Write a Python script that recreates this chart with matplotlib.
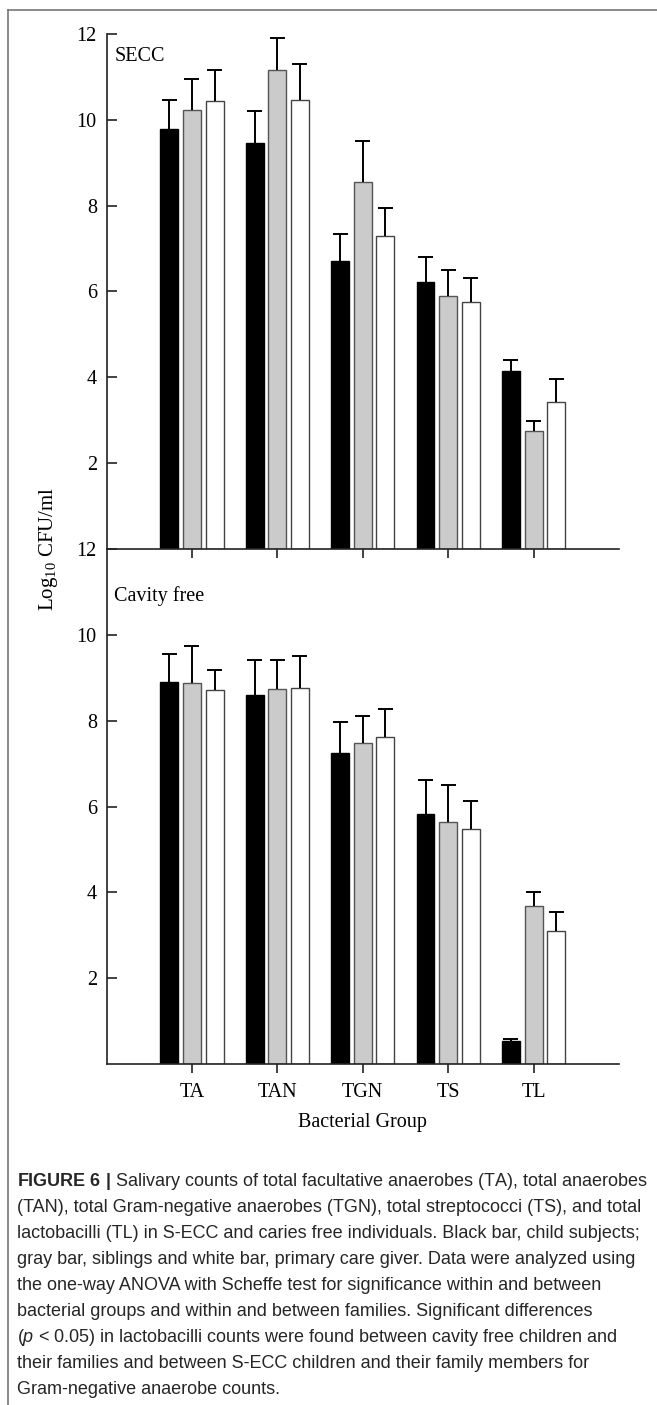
import numpy as np
import matplotlib
matplotlib.use("Agg")
import matplotlib.pyplot as plt
from matplotlib.lines import Line2D

# bacterial groups on the x axis
groups = ["TA", "TAN", "TGN", "TS", "TL"]

# SECC panel: means and (upper) error bars, log10 CFU/ml
secc_child = [9.78, 9.46, 6.72, 6.22, 4.15]
secc_sibling = [10.23, 11.15, 8.55, 5.89, 2.74]
secc_carer = [10.45, 10.46, 7.29, 5.75, 3.42]
secc_child_err = [0.68, 0.74, 0.62, 0.58, 0.25]
secc_sibling_err = [0.73, 0.75, 0.95, 0.61, 0.25]
secc_carer_err = [0.72, 0.84, 0.66, 0.56, 0.53]

# cavity free panel
free_child = [8.91, 8.60, 7.24, 5.83, 0.54]
free_sibling = [8.88, 8.74, 7.48, 5.63, 3.67]
free_carer = [8.72, 8.75, 7.63, 5.48, 3.09]
free_child_err = [0.64, 0.81, 0.72, 0.78, 0.05]
free_sibling_err = [0.85, 0.67, 0.64, 0.88, 0.33]
free_carer_err = [0.45, 0.76, 0.65, 0.65, 0.45]

caption_lines = [
    r"$\mathbf{FIGURE\ 6\ |}$ Salivary counts of total facultative anaerobes (TA), total anaerobes",
    "(TAN), total Gram-negative anaerobes (TGN), total streptococci (TS), and total",
    "lactobacilli (TL) in S-ECC and caries free individuals. Black bar, child subjects;",
    "gray bar, siblings and white bar, primary care giver. Data were analyzed using",
    "the one-way ANOVA with Scheffe test for significance within and between",
    "bacterial groups and within and between families. Significant differences",
    r"($\mathit{p}$ < 0.05) in lactobacilli counts were found between cavity free children and",
    "their families and between S-ECC children and their family members for",
    "Gram-negative anaerobe counts.",
]

plt.rcParams['font.family'] = ['Liberation Serif', 'DejaVu Serif']
plt.rcParams['mathtext.fontset'] = 'custom'
plt.rcParams['mathtext.rm'] = 'Liberation Serif'
plt.rcParams['mathtext.bf'] = 'Liberation Sans:bold'
plt.rcParams['mathtext.it'] = 'Liberation Sans:italic'

W, H = 657, 1405
fig = plt.figure(figsize=(W / 100, H / 100), dpi=100)

left, right = 106.5 / W, 619 / W
y_top, y_mid, y_bot = 1 - 34 / H, 1 - 549 / H, 1 - 1064 / H
ax1 = fig.add_axes([left, y_mid, right - left, y_top - y_mid])
ax2 = fig.add_axes([left, y_bot, right - left, y_mid - y_bot])
ax1.set_zorder(3)

x = np.arange(len(groups))
offsets = [-0.265, 0.0, 0.265]
width = 0.21
fills = ["black", "#cbcbcb", "white"]
edges = ["black", "#555555", "#444444"]

panels = [
    (ax1, "SECC", 11.47,
     [secc_child, secc_sibling, secc_carer],
     [secc_child_err, secc_sibling_err, secc_carer_err]),
    (ax2, "Cavity free", 10.91,
     [free_child, free_sibling, free_carer],
     [free_child_err, free_sibling_err, free_carer_err]),
]

for ax, name, name_y, series, errs in panels:
    ax.patch.set_alpha(0)
    for off, vals, err, fc, ec in zip(offsets, series, errs, fills, edges):
        vals = np.array(vals)
        err = np.array(err)
        xs = x + off
        ax.bar(xs, vals, width, color=fc, edgecolor=ec, linewidth=1.0, zorder=2)
        # upper error bar only
        ax.vlines(xs, vals, vals + err, color="black", linewidth=1.4, zorder=3)
        ax.hlines(vals + err, xs - 0.088, xs + 0.088, color="black", linewidth=1.4, zorder=3)
    ax.set_xlim(-1, 5)
    ax.set_ylim(0, 12)
    ax.set_yticks([2, 4, 6, 8, 10, 12])
    ax.set_xticks(x)
    ax.spines['top'].set_visible(False)
    ax.spines['right'].set_visible(False)
    for s in ['left', 'bottom']:
        ax.spines[s].set_linewidth(1.2)
        ax.spines[s].set_color("#222222")
    ax.tick_params(axis='y', direction='in', length=7, width=1.2, pad=7,
                   labelsize=14.5, color="#222222")
    ax.tick_params(axis='x', direction='out', length=6.5, width=1.2, pad=7,
                   labelsize=14.5, color="#222222")
    ax.text(0.015, name_y, name, transform=ax.get_yaxis_transform(),
            fontsize=14.5, va='center', ha='left')

ax1.set_xticklabels([])
ax2.set_xticklabels(groups)
ax2.set_xlabel("Bacterial Group", fontsize=14.5, labelpad=8)

fig.text(49 / W, y_mid, r"Log$_{\mathrm{10}}$ CFU/ml", rotation=90,
         fontsize=15, ha='center', va='center')

# outer frame (left and top edges only, the rest is cropped)
fig.add_artist(Line2D([8 / W, 8 / W], [0, 1 - 10 / H], transform=fig.transFigure,
                      color="#777777", linewidth=1.2))
fig.add_artist(Line2D([8 / W, 1], [1 - 10 / H, 1 - 10 / H], transform=fig.transFigure,
                      color="#777777", linewidth=1.2))

# caption, sized so the first line spans the box width
renderer = fig.canvas.get_renderer()
probe = fig.text(0, 0, caption_lines[0], fontsize=12, family='Liberation Sans')
w = probe.get_window_extent(renderer).width
probe.remove()
cap_size = 12 * 630 / w
for i, line in enumerate(caption_lines):
    fig.text(17 / W, 1 - (1182 + 26 * i) / H, line, fontsize=cap_size,
             family='Liberation Sans', color="#262626", ha='left', va='center')

fig.savefig("out.png", dpi=100)
